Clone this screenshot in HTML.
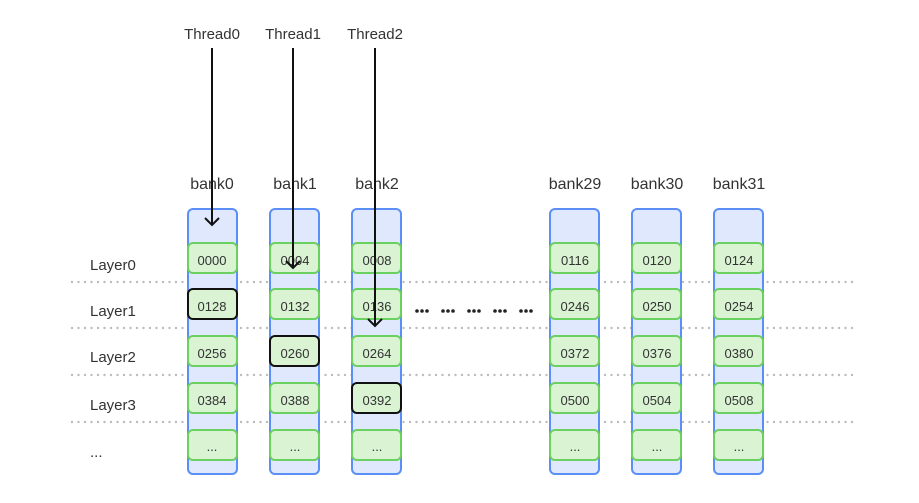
<!DOCTYPE html>
<html><head><style>
html,body{margin:0;padding:0;background:#fff;}
svg text{font-family:"Liberation Sans","DejaVu Sans",sans-serif;fill:#333;}
</style></head><body>
<svg width="919" height="498" viewBox="0 0 919 498" xmlns="http://www.w3.org/2000/svg">
<g stroke="#bbb" stroke-width="2.4" stroke-dasharray="0 6.5" stroke-linecap="round">
<line x1="72" y1="282" x2="858" y2="282"/>
<line x1="72" y1="328" x2="858" y2="328"/>
<line x1="72" y1="375" x2="858" y2="375"/>
<line x1="72" y1="422" x2="858" y2="422"/>
</g>
<g font-size="15">
<text x="90" y="270">Layer0</text>
<text x="90" y="316">Layer1</text>
<text x="90" y="362">Layer2</text>
<text x="90" y="410">Layer3</text>
<text x="90" y="457">...</text>
</g>
<g font-size="16" text-anchor="middle">
<text x="212" y="189">bank0</text>
<text x="295" y="189">bank1</text>
<text x="377" y="189">bank2</text>
<text x="575" y="189">bank29</text>
<text x="657" y="189">bank30</text>
<text x="739" y="189">bank31</text>
<text x="212" y="39" font-size="15">Thread0</text>
<text x="293" y="39" font-size="15">Thread1</text>
<text x="375" y="39" font-size="15">Thread2</text>
</g>
<g fill="#dfe8fc" stroke="#5b8ff5" stroke-width="2">
<rect x="188" y="209" width="49" height="265" rx="5"/>
<rect x="270" y="209" width="49" height="265" rx="5"/>
<rect x="352" y="209" width="49" height="265" rx="5"/>
<rect x="550" y="209" width="49" height="265" rx="5"/>
<rect x="632" y="209" width="49" height="265" rx="5"/>
<rect x="714" y="209" width="49" height="265" rx="5"/>
</g>
<g fill="#d9f3d3" stroke="#6ad060" stroke-width="2">
<rect x="188" y="243" width="49" height="30" rx="5"/>
<rect x="188" y="336" width="49" height="30" rx="5"/>
<rect x="188" y="383" width="49" height="30" rx="5"/>
<rect x="188" y="430" width="49" height="30" rx="5"/>
<rect x="270" y="243" width="49" height="30" rx="5"/>
<rect x="270" y="289" width="49" height="30" rx="5"/>
<rect x="270" y="383" width="49" height="30" rx="5"/>
<rect x="270" y="430" width="49" height="30" rx="5"/>
<rect x="352" y="243" width="49" height="30" rx="5"/>
<rect x="352" y="289" width="49" height="30" rx="5"/>
<rect x="352" y="336" width="49" height="30" rx="5"/>
<rect x="352" y="430" width="49" height="30" rx="5"/>
<rect x="550" y="243" width="49" height="30" rx="5"/>
<rect x="550" y="289" width="49" height="30" rx="5"/>
<rect x="550" y="336" width="49" height="30" rx="5"/>
<rect x="550" y="383" width="49" height="30" rx="5"/>
<rect x="550" y="430" width="49" height="30" rx="5"/>
<rect x="632" y="243" width="49" height="30" rx="5"/>
<rect x="632" y="289" width="49" height="30" rx="5"/>
<rect x="632" y="336" width="49" height="30" rx="5"/>
<rect x="632" y="383" width="49" height="30" rx="5"/>
<rect x="632" y="430" width="49" height="30" rx="5"/>
<rect x="714" y="243" width="49" height="30" rx="5"/>
<rect x="714" y="289" width="49" height="30" rx="5"/>
<rect x="714" y="336" width="49" height="30" rx="5"/>
<rect x="714" y="383" width="49" height="30" rx="5"/>
<rect x="714" y="430" width="49" height="30" rx="5"/>
</g>
<g fill="#d9f3d3" stroke="#111" stroke-width="2">
<rect x="188" y="289" width="49" height="30" rx="5"/>
<rect x="270" y="336" width="49" height="30" rx="5"/>
<rect x="352" y="383" width="49" height="30" rx="5"/>
</g>
<g font-size="13" text-anchor="middle">
<text x="212" y="265">0000</text><text x="212" y="311">0128</text><text x="212" y="358">0256</text><text x="212" y="405">0384</text><text x="212" y="451">...</text>
<text x="295" y="265">0004</text><text x="295" y="311">0132</text><text x="295" y="358">0260</text><text x="295" y="405">0388</text><text x="295" y="451">...</text>
<text x="377" y="265">0008</text><text x="377" y="311">0136</text><text x="377" y="358">0264</text><text x="377" y="405">0392</text><text x="377" y="451">...</text>
<text x="575" y="265">0116</text><text x="575" y="311">0246</text><text x="575" y="358">0372</text><text x="575" y="405">0500</text><text x="575" y="451">...</text>
<text x="657" y="265">0120</text><text x="657" y="311">0250</text><text x="657" y="358">0376</text><text x="657" y="405">0504</text><text x="657" y="451">...</text>
<text x="739" y="265">0124</text><text x="739" y="311">0254</text><text x="739" y="358">0380</text><text x="739" y="405">0508</text><text x="739" y="451">...</text>
</g>
<g fill="#222">
<circle cx="417" cy="311" r="1.8"/><circle cx="422" cy="311" r="1.8"/><circle cx="427" cy="311" r="1.8"/>
<circle cx="443" cy="311" r="1.8"/><circle cx="448" cy="311" r="1.8"/><circle cx="453" cy="311" r="1.8"/>
<circle cx="469" cy="311" r="1.8"/><circle cx="474" cy="311" r="1.8"/><circle cx="479" cy="311" r="1.8"/>
<circle cx="495" cy="311" r="1.8"/><circle cx="500" cy="311" r="1.8"/><circle cx="505" cy="311" r="1.8"/>
<circle cx="521" cy="311" r="1.8"/><circle cx="526" cy="311" r="1.8"/><circle cx="531" cy="311" r="1.8"/>
</g>
<g stroke="#111" stroke-width="2" fill="none">
<line x1="212" y1="48" x2="212" y2="225"/><polyline points="205,218 212,225 219,218"/>
<line x1="293" y1="48" x2="293" y2="268"/><polyline points="286,261 293,268 300,261"/>
<line x1="375" y1="48" x2="375" y2="326"/><polyline points="368,319 375,326 382,319"/>
</g>
</svg>
</body></html>
